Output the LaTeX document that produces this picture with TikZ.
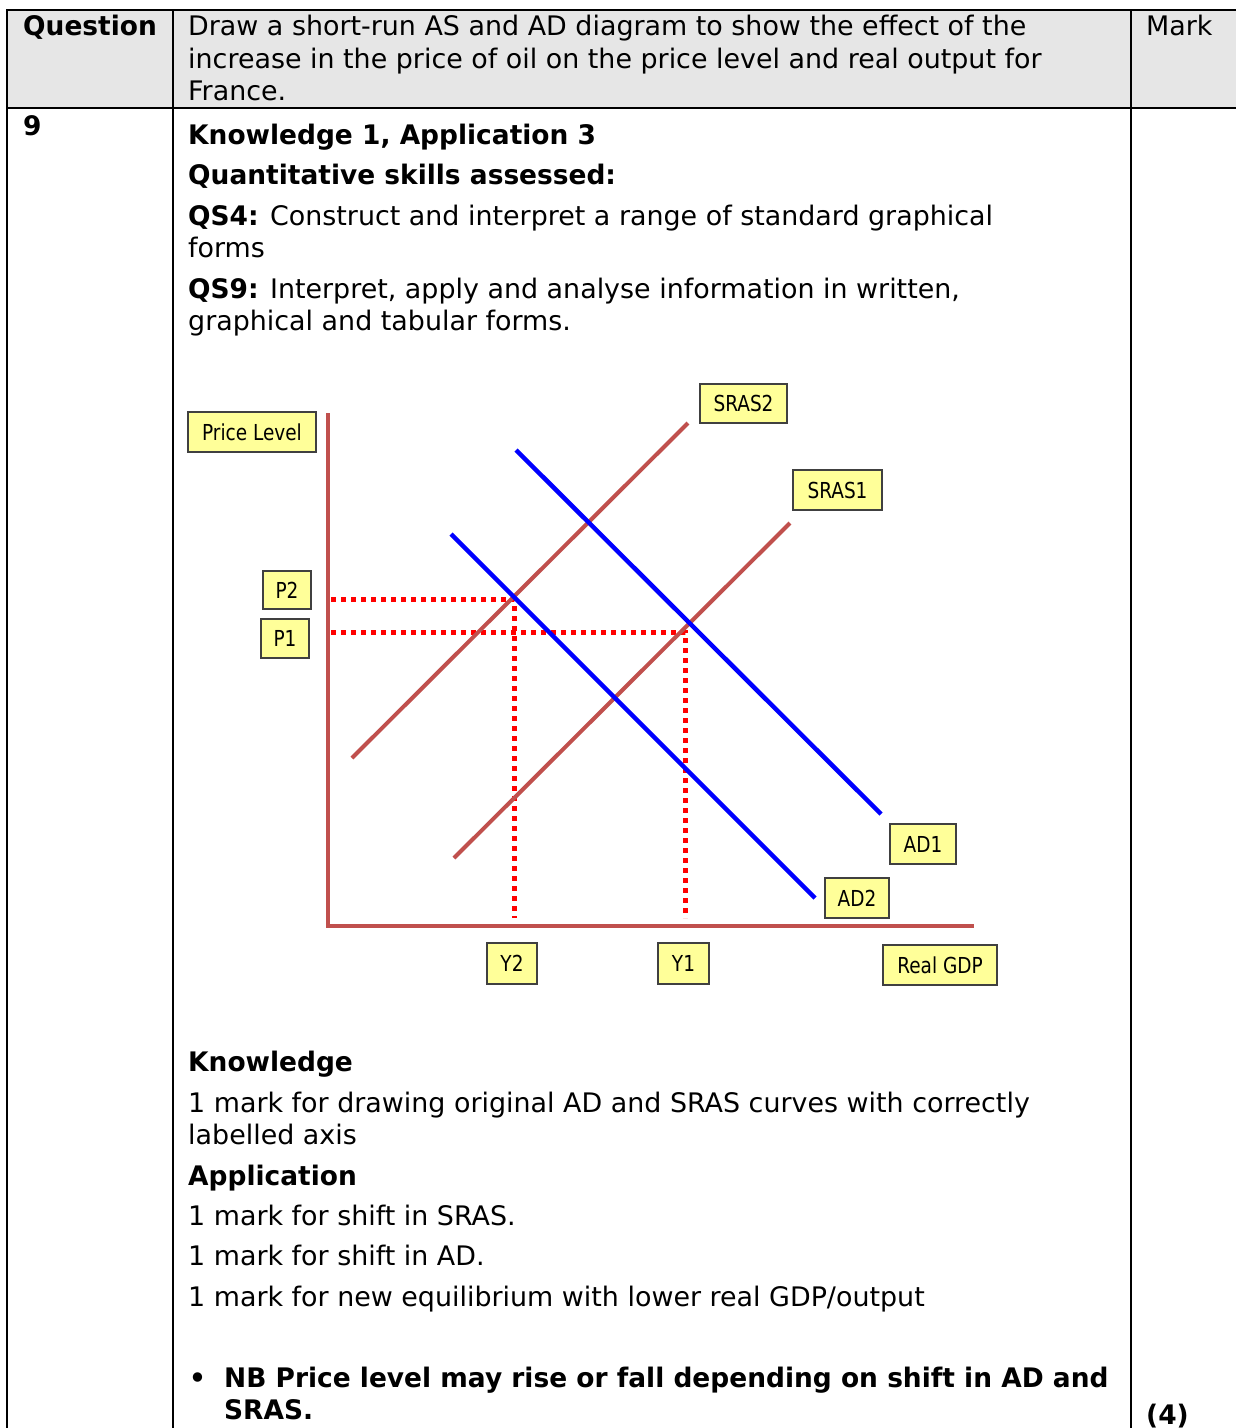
\documentclass[tikz,border=0pt]{standalone}
\usepackage{fontspec}
\setmainfont{DejaVu Sans}[BoldFeatures={FakeStretch=0.983}]
\newfontfamily\lblfont[FakeStretch=0.84]{DejaVu Sans}
\definecolor{hdrgray}{HTML}{E6E6E6}
\definecolor{axisred}{HTML}{C0504D}
\definecolor{adblue}{HTML}{0000FF}
\definecolor{lblyellow}{HTML}{FFFF99}
\definecolor{dotred}{HTML}{FF0000}
\tikzset{
  rule/.style={line width=2pt, black},
  txt/.style={anchor=base west, inner sep=0pt, font=\fontsize{26.9}{32.4}\selectfont},
  btxt/.style={txt, font=\fontsize{26.9}{32.4}\selectfont\bfseries},
  lbl/.style={draw=black!75, fill=lblyellow, line width=1.8pt, inner sep=0pt,
     font=\lblfont\fontsize{22}{25}\selectfont, text=black},
  axisline/.style={line width=4pt, axisred},
  sras/.style={line width=4pt, axisred},
  adline/.style={line width=4.5pt, adblue},
  guide/.style={line width=5pt, dotred, dash pattern=on 5pt off 5pt}
}
\begin{document}
\begin{tikzpicture}[x=1pt,y=-1pt]
\useasboundingbox (0,0) rectangle (1236,1428);
% table
\fill[hdrgray] (7,10) rectangle (1236,108);
\draw[rule] (1236,10) -- (7,10) -- (7,1428);
\draw[rule] (7,108) -- (1236,108);
\draw[rule] (173,10) -- (173,1428);
\draw[rule] (1131,10) -- (1131,1428);
% header text
\node[btxt] (hq) at (23,35) {Question};
\node[txt] (h1) at (188,35) {Draw a short-run AS and AD diagram to show the effect of the};
\node[txt] (h2) at (188,68) {increase in the price of oil on the price level and real output for};
\node[txt] (h3) at (188,100) {France.};
\node[txt] (hm) at (1146,35) {Mark};
% body text
\node[btxt] (num) at (23,135) {9};
\node[btxt] (t1) at (188,144) {Knowledge 1, Application 3};
\node[btxt] (t2) at (188,184) {Quantitative skills assessed:};
\node[txt] (t3) at (188,225) {\textbf{QS4:} Construct and interpret a range of standard graphical};
\node[txt] (t4) at (188,257) {forms};
\node[txt] (t5) at (188,298) {\textbf{QS9:} Interpret, apply and analyse information in written,};
\node[txt] (t6) at (188,330) {graphical and tabular forms.};
\node[btxt] (k1) at (188,1071) {Knowledge};
\node[txt] (k2) at (188,1112) {1 mark for drawing original AD and SRAS curves with correctly};
\node[txt] (k3) at (188,1144) {labelled axis};
\node[btxt] (a1) at (188,1185) {Application};
\node[txt] (a2) at (188,1225) {1 mark for shift in SRAS.};
\node[txt] (a3) at (188,1265) {1 mark for shift in AD.};
\node[txt] (a4) at (188,1306) {1 mark for new equilibrium with lower real GDP/output};
\node[btxt] (bul) at (189,1387) {•};
\node[btxt] (n1) at (224,1387) {NB Price level may rise or fall depending on shift in AD and};
\node[btxt] (n2) at (224,1419) {SRAS.};
\node[btxt] (mk) at (1146,1424) {(4)};
% graph coordinates
\coordinate (ytop) at (328,413);
\coordinate (orig) at (328,926);
\coordinate (xend) at (974,926);
\coordinate (s2a) at (352,758);
\coordinate (s2b) at (688,423);
\coordinate (s1a) at (454,858);
\coordinate (s1b) at (790,523);
\coordinate (d1a) at (516,450);
\coordinate (d1b) at (881,814);
\coordinate (d2a) at (451,534);
\coordinate (d2b) at (815,898);
\coordinate (p2a) at (331,599);
\coordinate (e2) at (514,599);
\coordinate (y2b) at (514,918);
\coordinate (p1a) at (331,632);
\coordinate (e1) at (685,632);
\coordinate (y1b) at (685,918);
% dotted guides
\draw[guide] (p2a) -- (e2) -- (y2b);
\draw[guide] (p1a) -- (e1) -- (y1b);
% curves
\draw[sras] (s2a) -- (s2b);
\draw[sras] (s1a) -- (s1b);
\draw[adline] (d1a) -- (d1b);
\draw[adline] (d2a) -- (d2b);
% axes
\draw[axisline] (ytop) -- (orig) -- (xend);
% labels
\node[lbl, minimum width=128pt, minimum height=40pt] (lpl) at (252,432) {Price Level};
\node[lbl, minimum width=87pt, minimum height=39pt] (ls2) at (743.5,403.5) {SRAS2};
\node[lbl, minimum width=89pt, minimum height=40pt] (ls1) at (837.5,490) {SRAS1};
\node[lbl, minimum width=48pt, minimum height=38pt] (lp2) at (287,590) {P2};
\node[lbl, minimum width=48pt, minimum height=39pt] (lp1) at (285,638.5) {P1};
\node[lbl, minimum width=66pt, minimum height=40pt] (ld1) at (923,844) {AD1};
\node[lbl, minimum width=64pt, minimum height=40pt] (ld2) at (857,898) {AD2};
\node[lbl, minimum width=50pt, minimum height=41pt] (ly2) at (512,963.5) {Y2};
\node[lbl, minimum width=51pt, minimum height=41pt] (ly1) at (683.5,963.5) {Y1};
\node[lbl, minimum width=114pt, minimum height=40pt] (lgdp) at (940,965) {Real GDP};
\end{tikzpicture}
\end{document}
